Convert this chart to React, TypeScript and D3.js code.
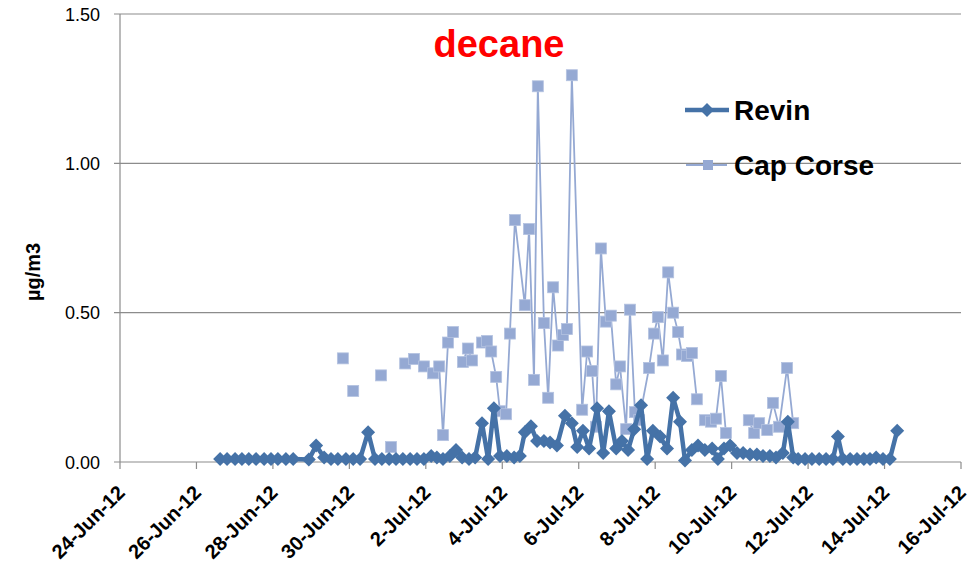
import * as d3 from "d3";

// days after 24-Jun-12 00:00
const revinDays = [
  2.62, 2.8, 3.01, 3.19, 3.37, 3.56, 3.77, 3.95, 4.13, 4.34, 4.53, 4.94, 5.13, 5.34, 5.52, 5.7, 5.91, 6.1,
  6.28, 6.49, 6.67, 6.85, 7.04, 7.22, 7.4, 7.59, 7.77, 7.95, 8.14, 8.29, 8.45, 8.63, 8.79, 8.95, 9.13, 9.29,
  9.47, 9.63, 9.78, 9.94, 10.12, 10.31, 10.46, 10.59, 10.75, 10.91, 11.09, 11.25, 11.43, 11.64, 11.82, 11.96,
  12.11, 12.27, 12.48, 12.64, 12.79, 12.98, 13.13, 13.29, 13.45, 13.63, 13.79, 13.94, 14.13, 14.31, 14.47,
  14.65, 14.78, 14.96, 15.12, 15.3, 15.49, 15.64, 15.8, 15.96, 16.14, 16.3, 16.48, 16.66, 16.82, 17.0, 17.16,
  17.34, 17.47, 17.61, 17.74, 17.92, 18.1, 18.29, 18.47, 18.65, 18.78, 18.91, 19.1, 19.28, 19.46, 19.62,
  19.78, 19.96, 20.14, 20.33,
];
const revinValues = [
  0.01, 0.01, 0.01, 0.01, 0.01, 0.01, 0.01, 0.01, 0.01, 0.01, 0.01, 0.008, 0.055, 0.015, 0.01, 0.01, 0.01, 0.01,
  0.01, 0.1, 0.01, 0.01, 0.01, 0.01, 0.01, 0.01, 0.01, 0.01, 0.02, 0.015, 0.01, 0.02, 0.04, 0.015, 0.01, 0.015,
  0.13, 0.01, 0.18, 0.02, 0.02, 0.015, 0.02, 0.1, 0.12, 0.07, 0.07, 0.065, 0.055, 0.155, 0.13, 0.05,
  0.105, 0.045, 0.18, 0.03, 0.17, 0.045, 0.07, 0.04, 0.11, 0.19, 0.01, 0.105, 0.085, 0.045, 0.215,
  0.135, 0.005, 0.04, 0.055, 0.04, 0.045, 0.01, 0.045, 0.055, 0.03, 0.03, 0.025, 0.025, 0.02, 0.02, 0.015,
  0.03, 0.135, 0.015, 0.01, 0.01, 0.01, 0.01, 0.01, 0.01, 0.085, 0.01, 0.01, 0.01, 0.01, 0.01,
  0.015, 0.01, 0.01, 0.105,
];

// null = no sample (breaks the line)
const capDays = [
  5.83, null, 6.1, null, 6.83, null, 7.09, null, 7.46, null, 7.69, null,
  7.95, 8.19, 8.35, 8.45, 8.58, 8.71, null,
  8.97, 9.1, 9.21, null,
  9.47, 9.6, 9.71, 9.84, 9.94, 10.1, 10.2, 10.33, 10.59, 10.7, 10.83, 10.93, 11.09, 11.2, 11.33, 11.46, 11.59,
  11.69, 11.82, 12.09, 12.22, 12.35, 12.45, 12.58, 12.71, 12.84, 12.98, 13.08, 13.24, 13.34, 13.47, 13.58,
  13.84, 13.97, 14.07, 14.2, 14.34, 14.47, 14.6, 14.7, 14.83, 14.96, 15.09, null,
  15.3, 15.46, 15.59, 15.72, 15.85, null,
  16.45, 16.59, 16.72, 16.93, 17.08, 17.24, 17.45, 17.61,
];
const capValues = [
  0.347, null, 0.238, null, 0.29, null, 0.05, null, 0.33, null, 0.345, null,
  0.32, 0.297, 0.32, 0.09, 0.4, 0.435, null,
  0.335, 0.38, 0.34, null,
  0.4, 0.405, 0.37, 0.285, 0.17, 0.16, 0.43, 0.81, 0.525, 0.78, 0.275, 1.258, 0.465, 0.215, 0.585, 0.39, 0.425,
  0.445, 1.295, 0.175, 0.37, 0.305, 0.118, 0.715, 0.47, 0.49, 0.26, 0.32, 0.11, 0.51, 0.167, 0.14,
  0.315, 0.43, 0.485, 0.34, 0.635, 0.5, 0.435, 0.36, 0.355, 0.365, 0.21, null,
  0.14, 0.135, 0.145, 0.288, 0.097, null,
  0.14, 0.097, 0.13, 0.107, 0.198, 0.118, 0.315, 0.13,
];

const yTicks = [0, 0.5, 1.0, 1.5];
const xTickLabels = [
  "24-Jun-12", "26-Jun-12", "28-Jun-12", "30-Jun-12", "2-Jul-12", "4-Jul-12",
  "6-Jul-12", "8-Jul-12", "10-Jul-12", "12-Jul-12", "14-Jul-12", "16-Jul-12",
];

const W = 969;
const H = 569;
const left = 120;
const right = 961;
const top = 14;
const bottom = 462;
const revinColor = "#4572a7";
const capColor = "#95a9d3";
const font = "'Liberation Sans', Arial, sans-serif";

export default function App() {
  const x = d3.scaleLinear().domain([0, 22]).range([left, right]);
  const y = d3.scaleLinear().domain([0, 1.5]).range([bottom, top]);

  const revin = revinDays.map((d, i) => ({ d, v: revinValues[i] }));
  const cap = capDays.map((d, i) => ({ d, v: capValues[i] }));

  const line = d3
    .line<{ d: number | null; v: number | null }>()
    .defined((p) => p.d !== null && p.v !== null)
    .x((p) => x(p.d as number))
    .y((p) => y(p.v as number));

  const diamond = (cx: number, cy: number, r: number) =>
    `M${cx},${cy - r}L${cx + r},${cy}L${cx},${cy + r}L${cx - r},${cy}Z`;

  return (
    <svg width={W} height={H} style={{ position: "absolute", left: 0, top: 0 }} fontFamily={font}>
      <rect width={W} height={H} fill="#fff" />
      {/* grid */}
      {yTicks.map((t) => (
        <g key={t}>
          <line x1={left - 6} x2={right} y1={y(t)} y2={y(t)} stroke="#8c8c8c" strokeWidth={1.2} />
          <text x={100} y={y(t) + 6.5} textAnchor="end" fontSize={18} fill="#000">
            {t.toFixed(2)}
          </text>
        </g>
      ))}
      <line x1={left} x2={left} y1={top} y2={bottom} stroke="#8c8c8c" strokeWidth={1.2} />
      {xTickLabels.map((lab, i) => {
        const tx = x(i * 2);
        return (
          <g key={lab}>
            <line x1={tx} x2={tx} y1={bottom} y2={bottom + 7} stroke="#8c8c8c" strokeWidth={1.2} />
            <text
              transform={`translate(${tx + 6},${bottom + 32}) rotate(-45)`}
              textAnchor="end"
              fontSize={20}
              fontWeight="bold"
              fill="#000"
            >
              {lab}
            </text>
          </g>
        );
      })}

      {/* Cap Corse */}
      <path d={line(cap) ?? ""} fill="none" stroke={capColor} strokeWidth={1.8} />
      {cap
        .filter((p) => p.d !== null)
        .map((p, i) => (
          <rect
            key={i}
            x={x(p.d as number) - 5.5}
            y={y(p.v as number) - 5.5}
            width={11}
            height={11}
            fill={capColor}
            stroke="#b4c2e0"
            strokeWidth={0.8}
          />
        ))}

      {/* Revin */}
      <path d={line(revin) ?? ""} fill="none" stroke={revinColor} strokeWidth={4.5} strokeLinejoin="round" />
      {revin.map((p, i) => (
        <path key={i} d={diamond(x(p.d), y(p.v), 7)} fill={revinColor} />
      ))}

      {/* title */}
      <text x={499} y={57} textAnchor="middle" fontSize={38} fontWeight="bold" fill="#ff0000">
        decane
      </text>
      <text
        transform="translate(40,272) rotate(-90)"
        textAnchor="middle"
        fontSize={20}
        fontWeight="bold"
        fill="#000"
      >
        µg/m3
      </text>

      {/* legend */}
      <line x1={685} x2={729} y1={110} y2={110} stroke={revinColor} strokeWidth={4.5} />
      <path d={diamond(707, 110, 7)} fill={revinColor} />
      <text x={734} y={120} fontSize={28} fontWeight="bold" fill="#000">
        Revin
      </text>
      <line x1={686} x2={727} y1={165} y2={165} stroke={capColor} strokeWidth={1.8} />
      <rect x={703} y={160} width={10} height={10} fill={capColor} />
      <text x={734} y={175} fontSize={28} fontWeight="bold" fill="#000">
        Cap Corse
      </text>
    </svg>
  );
}
